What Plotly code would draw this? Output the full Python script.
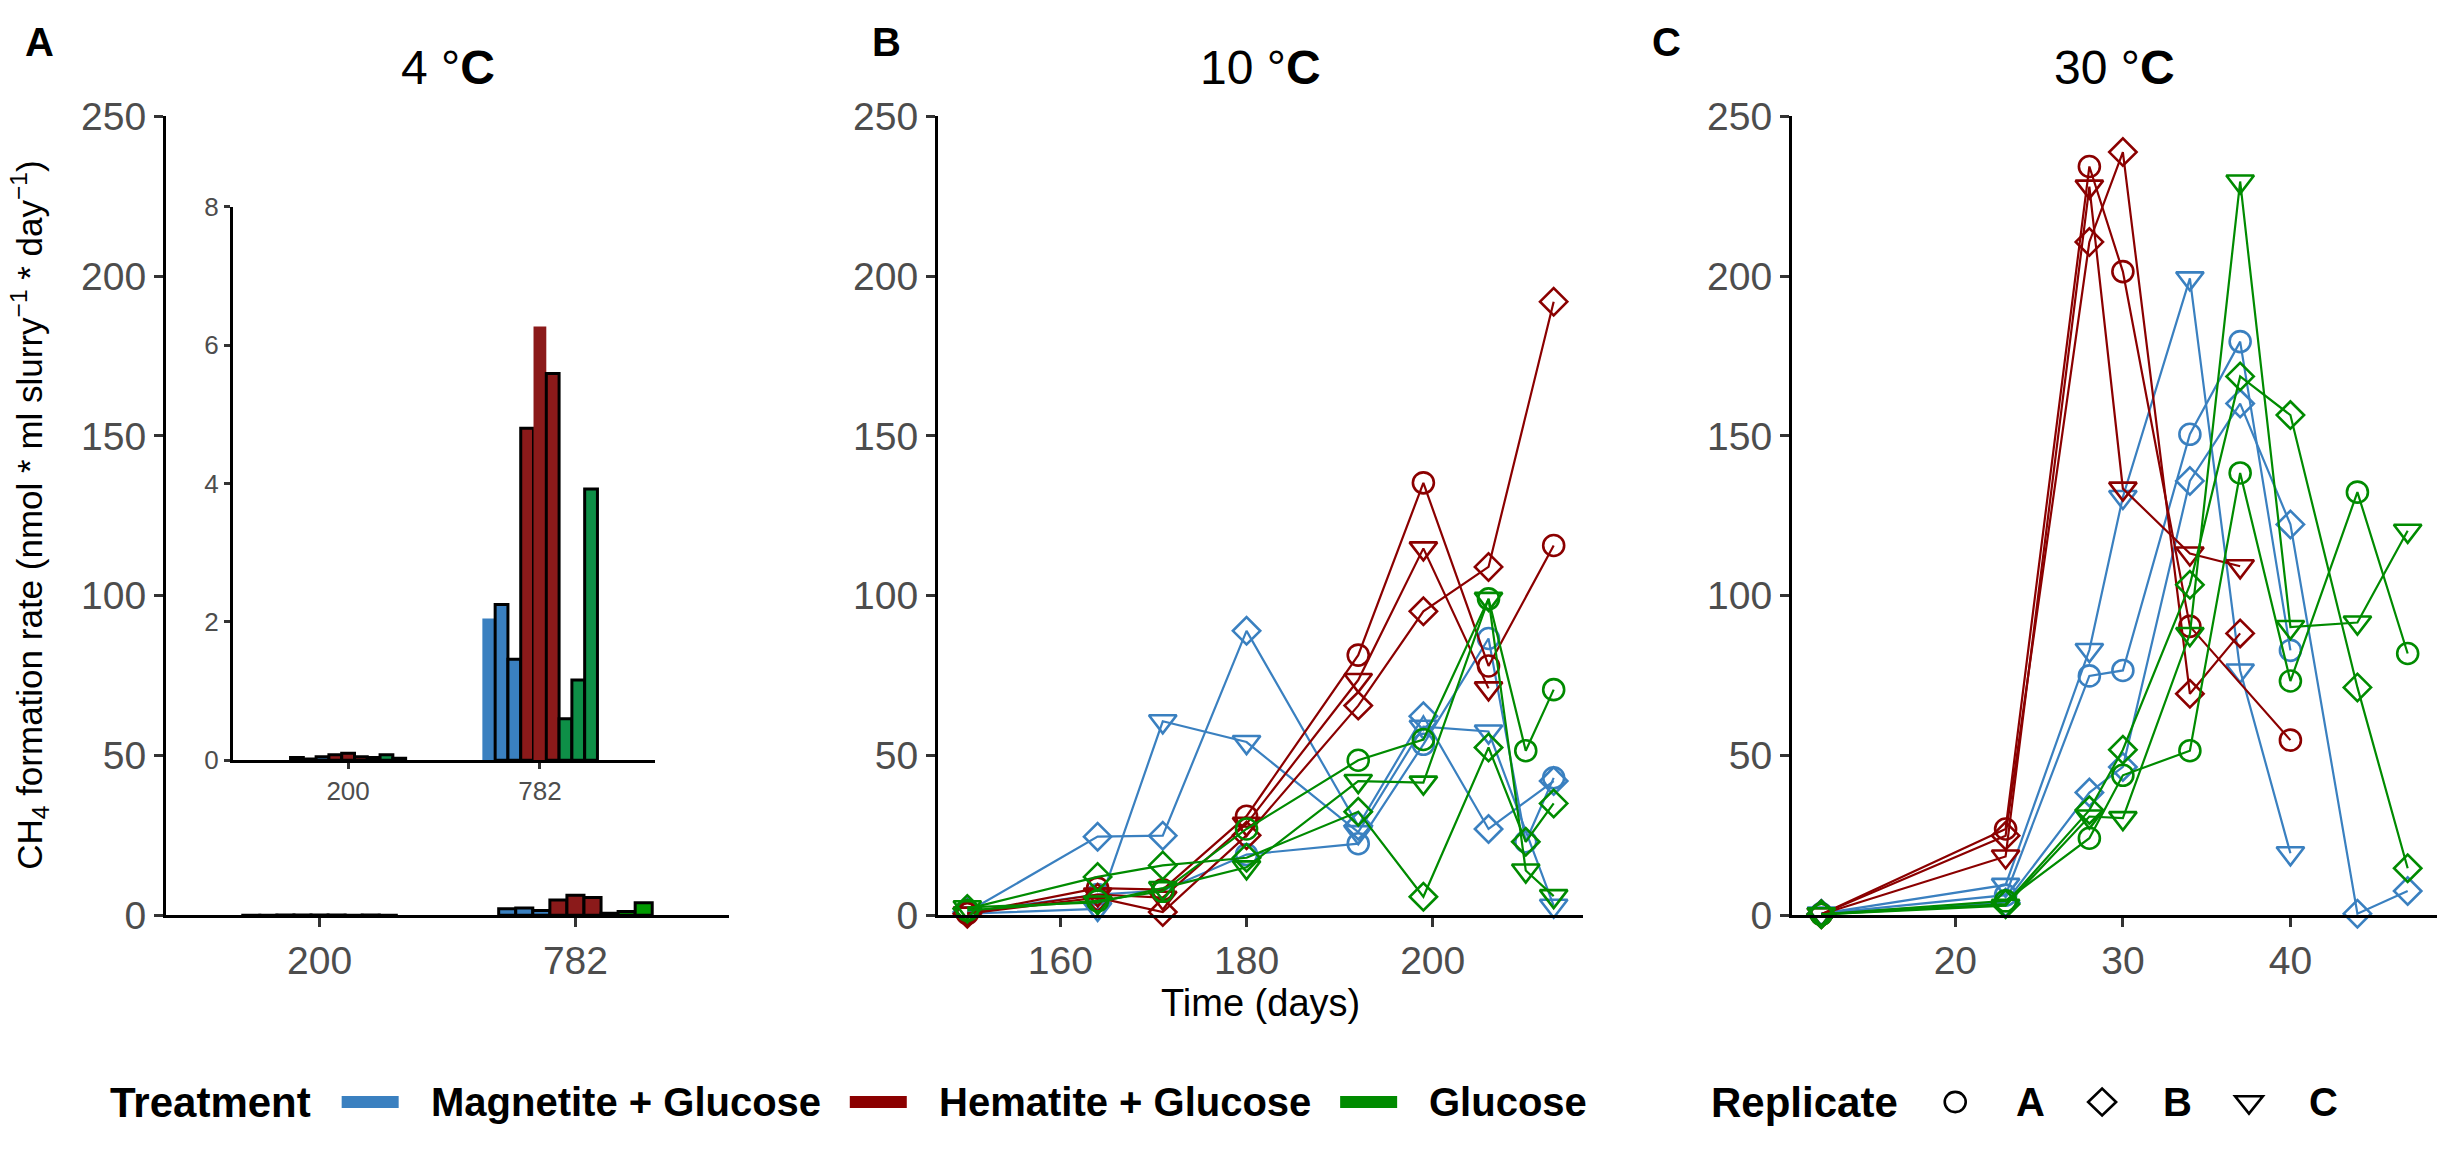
import plotly.graph_objects as go

W, H = 2444, 1150


def fx(px):
    return px / W


def fy(py):
    return 1 - py / H


# ---------------- data ----------------
# Panel A (4 °C): bar heights per replicate (A, B, C) for the two sampling days
a_days = ["200", "782"]
a_magnetite = [[0.04, 2.05], [0.02, 2.25], [0.05, 1.46]]
a_hematite = [[0.08, 4.80], [0.10, 6.27], [0.05, 5.59]]
a_glucose = [[0.04, 0.60], [0.08, 1.16], [0.03, 3.92]]

# Panel B (10 °C)
b_days = [150, 164, 171, 180, 192, 199, 206, 210, 213]
b_magnetite = [
    [1.0, 6.5, 7.7, 19.0, 22.4, 53.5, 86.6, 23.0, 43.0],
    [1.0, 24.6, 24.9, 89.0, 28.0, 62.3, 27.0, None, 42.0],
    [0.5, 2.0, 60.7, 54.2, 26.0, 59.0, 57.5, None, 3.0],
]
b_hematite = [
    [0.5, 8.5, 8.0, 31.0, 81.4, 135.3, 78.0, None, 115.7],
    [0.5, 5.5, 1.0, 25.0, 65.6, 95.1, 109.0, None, 192.0],
    [0.5, 6.5, 5.5, 28.6, 73.6, 114.8, 71.0, None, None],
]
b_glucose = [
    [1.5, 4.5, 7.5, 27.0, 48.5, 55.0, 99.0, 51.5, 70.6],
    [2.0, 12.0, 15.6, 18.0, 32.4, 5.8, 52.5, 23.0, 35.0],
    [2.5, 4.0, 8.5, 15.0, 42.0, 41.5, 99.0, 14.0, 6.0],
]

# Panel C (30 °C)
c_days = [12, 23, 28, 30, 34, 37, 40, 44, 47]
c_magnetite = [
    [0.5, 6.3, 74.9, 76.6, 150.5, 179.5, 82.9, None, None],
    [0.5, 4.0, 38.4, 46.4, 135.9, 160.1, 122.3, 0.5, 7.6],
    [0.5, 9.5, 83.0, 130.9, 199.3, 76.6, 19.4, None, None],
]
c_hematite = [
    [0.3, 27.0, 234.3, 201.4, 90.4, None, 54.8, None, None],
    [0.3, 24.9, 210.7, 238.8, 69.3, 88.2, None, None, None],
    [0.3, 18.4, 228.0, 133.5, 113.2, 109.2, None, None, None],
]
c_glucose = [
    [0.3, 4.5, 24.1, 43.8, 51.5, 138.4, 73.3, 132.4, 81.9],
    [0.3, 3.5, 32.9, 51.8, 103.4, 168.6, 156.5, 71.3, 14.7],
    [0.3, 3.0, 30.9, 30.4, 88.0, 229.6, 90.2, 91.6, 120.3],
]

treatments = ["Magnetite + Glucose", "Hematite + Glucose", "Glucose"]
replicates = ["A", "B", "C"]
y_ticks = [0, 50, 100, 150, 200, 250]
inset_ticks = [0, 2, 4, 6, 8]
b_ticks = [160, 180, 200]
c_ticks = [20, 30, 40]

# ---------------- style ----------------
line_colors = ["#3A80C0", "#8B0000", "#008B00"]
bar_colors = ["#3A80C0", "#8B1A1A", "#009A00"]
inset_colors = ["#3A80C0", "#8B1A1A", "#0E8F47"]
symbols = ["circle-open", "diamond-open", "triangle-down-open"]
sizes = [21, 21, 24]
FONT = "Liberation Sans, Arial, sans-serif"
TICK_COLOR = "#4D4D4D"

fig = go.Figure()

# ---------------- panel A bars (main + inset) ----------------
a_sets = [a_magnetite, a_hematite, a_glucose]
no_outline = {(0, 0), (1, 1)}
for ti, tset in enumerate(a_sets):
    for ri, vals in enumerate(tset):
        fig.add_trace(go.Bar(
            x=a_days, y=vals, xaxis="x", yaxis="y",
            marker=dict(color=bar_colors[ti], line=dict(color="black", width=3)),
            showlegend=False, hoverinfo="skip"))
for ti, tset in enumerate(a_sets):
    for ri, vals in enumerate(tset):
        lc = ["black", "rgba(0,0,0,0)"] if (ti, ri) in no_outline else "black"
        fig.add_trace(go.Bar(
            x=a_days, y=vals, xaxis="x4", yaxis="y4",
            marker=dict(color=inset_colors[ti], line=dict(color=lc, width=3)),
            showlegend=False, hoverinfo="skip"))

# ---------------- panels B & C lines ----------------
for days, sets, xa, ya in [(b_days, [b_magnetite, b_hematite, b_glucose], "x2", "y2"),
                           (c_days, [c_magnetite, c_hematite, c_glucose], "x3", "y3")]:
    for ti, tset in enumerate(sets):
        for ri, vals in enumerate(tset):
            fig.add_trace(go.Scatter(
                x=days, y=vals, xaxis=xa, yaxis=ya, mode="lines+markers",
                connectgaps=True, cliponaxis=False,
                line=dict(color=line_colors[ti], width=2.2),
                marker=dict(symbol=symbols[ri], size=sizes[ri], color=line_colors[ti],
                            line=dict(color=line_colors[ti], width=2.6)),
                showlegend=False, hoverinfo="skip"))

# ---------------- axes ----------------
common = dict(showgrid=False, zeroline=False, showline=True, linecolor="black",
              linewidth=3, ticks="outside", ticklen=9, tickwidth=3,
              tickcolor="#333333", tickfont=dict(family=FONT, size=39, color=TICK_COLOR))

A_X = (166, 729)
B_X = (938, 1583)
C_X = (1792, 2437)
Y_DOM = [fy(929), fy(99)]

fig.update_layout(
    xaxis=dict(common, domain=[fx(A_X[0]), fx(A_X[1])], type="category",
               range=[-0.6, 1.6], anchor="y"),
    yaxis=dict(common, domain=Y_DOM, range=[0, 250], tickvals=y_ticks, anchor="x"),
    xaxis2=dict(common, domain=[fx(B_X[0]), fx(B_X[1])], range=[146.85, 216.15],
                tickvals=b_ticks, anchor="y2"),
    yaxis2=dict(common, domain=Y_DOM, range=[0, 250], tickvals=y_ticks, anchor="x2"),
    xaxis3=dict(common, domain=[fx(C_X[0]), fx(C_X[1])], range=[10.25, 48.75],
                tickvals=c_ticks, anchor="y3"),
    yaxis3=dict(common, domain=Y_DOM, range=[0, 250], tickvals=y_ticks, anchor="x3"),
    xaxis4=dict(common, domain=[fx(233), fx(655)], type="category", range=[-0.6, 1.6],
                anchor="y4", ticklen=6, tickfont=dict(family=FONT, size=26, color=TICK_COLOR)),
    yaxis4=dict(common, domain=[fy(768), fy(193)], range=[0, 8], tickvals=inset_ticks,
                anchor="x4", ticklen=6, tickfont=dict(family=FONT, size=26, color=TICK_COLOR)),
)

# ---------------- text ----------------
ann = []
titles = ["4 °<b>C</b>", "10 °<b>C</b>", "30 °<b>C</b>"]
for (x0, x1), t in zip([A_X, B_X, C_X], titles):
    ann.append(dict(text=t, x=fx((x0 + x1) / 2), y=fy(48), xref="paper", yref="paper",
                    showarrow=False, font=dict(family=FONT, size=48, color="black"),
                    xanchor="center", yanchor="middle"))
for px, lab in zip([23, 870, 1650], ["A", "B", "C"]):
    ann.append(dict(text="<b>%s</b>" % lab, x=fx(px), y=fy(22), xref="paper",
                    yref="paper", showarrow=False, xanchor="left", yanchor="middle",
                    font=dict(family=FONT, size=40, color="black")))
ann.append(dict(text="CH<sub>4</sub> formation rate (nmol * ml slurry<sup>−1</sup> * day<sup>−1</sup>)",
                x=fx(30), y=fy(514), xref="paper", yref="paper", showarrow=False,
                textangle=-90, xanchor="center", yanchor="middle",
                font=dict(family=FONT, size=35, color="black")))
ann.append(dict(text="Time (days)", x=fx((B_X[0] + B_X[1]) / 2), y=fy(1020), xref="paper",
                yref="paper", showarrow=False, xanchor="center", yanchor="middle",
                font=dict(family=FONT, size=38, color="black")))

# ---------------- legends (drawn as layout shapes + text) ----------------
BOLD_W = {"T": .611, "r": .389, "e": .556, "a": .556, "t": .333, "m": .889, "n": .611,
          "M": .833, "g": .611, "i": .278, " ": .278, "+": .584, "G": .778, "l": .278,
          "u": .611, "c": .556, "o": .611, "s": .556, "H": .722, "R": .722, "p": .611,
          "A": .722, "B": .722, "C": .722}


def text_w(s, size):
    return sum(BOLD_W.get(ch, .6) for ch in s) * size


LEG_Y = 1123
TITLE_SIZE, ITEM_SIZE = 42, 40
KEY_GAP, KEY_LEN, TEXT_GAP, LEGEND_GAP = 31, 57, 30, 124
shapes = []


def legend_title(x, s):
    ann.append(dict(text="<b>%s</b>" % s, x=fx(x), y=fy(LEG_Y), xref="paper", yref="paper",
                    showarrow=False, xanchor="left", yanchor="middle",
                    font=dict(family=FONT, size=TITLE_SIZE, color="black")))
    return x + text_w(s, TITLE_SIZE)


def legend_label(x, s):
    ann.append(dict(text="<b>%s</b>" % s, x=fx(x), y=fy(LEG_Y), xref="paper", yref="paper",
                    showarrow=False, xanchor="left", yanchor="middle",
                    font=dict(family=FONT, size=ITEM_SIZE, color="black")))
    return x + text_w(s, ITEM_SIZE)


def pth(points):
    return "M " + " L ".join("%f,%f" % (fx(px), fy(py)) for px, py in points) + " Z"


def symbol_shape(kind, cx, cy):
    st = dict(xref="paper", yref="paper", line=dict(color="black", width=2.6))
    if kind == 0:
        r = 10.5
        return dict(st, type="circle", x0=fx(cx - r), x1=fx(cx + r), y0=fy(cy + r), y1=fy(cy - r))
    if kind == 1:
        r = 14
        return dict(st, type="path", path=pth([(cx + r, cy), (cx, cy + r), (cx - r, cy), (cx, cy - r)]))
    r = 12
    return dict(st, type="path", path=pth([(cx - 1.155 * r, cy - r / 2), (cx + 1.155 * r, cy - r / 2),
                                           (cx, cy + r)]))


tw = text_w("Treatment", TITLE_SIZE) + sum(KEY_GAP + KEY_LEN + TEXT_GAP + text_w(t, ITEM_SIZE)
                                          for t in treatments)
rw = text_w("Replicate", TITLE_SIZE) + sum(KEY_GAP + KEY_LEN + TEXT_GAP + text_w(t, ITEM_SIZE)
                                          for t in replicates)
x = (W - (tw + LEGEND_GAP + rw)) / 2

x = legend_title(x, "Treatment")
for ti, name in enumerate(treatments):
    x += KEY_GAP
    shapes.append(dict(type="line", xref="paper", yref="paper", x0=fx(x), x1=fx(x + KEY_LEN),
                       y0=fy(LEG_Y), y1=fy(LEG_Y), line=dict(color=line_colors[ti], width=12)))
    x += KEY_LEN + TEXT_GAP
    x = legend_label(x, name)
x += LEGEND_GAP
x = legend_title(x, "Replicate")
for ri, name in enumerate(replicates):
    x += KEY_GAP
    shapes.append(symbol_shape(ri, x + KEY_LEN / 2, LEG_Y))
    x += KEY_LEN + TEXT_GAP
    x = legend_label(x, name)

fig.update_layout(
    annotations=ann, shapes=shapes,
    width=W, height=H,
    margin=dict(l=0, r=0, t=0, b=0),
    paper_bgcolor="white", plot_bgcolor="rgba(0,0,0,0)",
    barmode="group", bargap=0.4, bargroupgap=0,
    font=dict(family=FONT), showlegend=False,
)

fig.write_html("out.html", config={"displayModeBar": False},
               post_script="document.body.style.margin='0';")
